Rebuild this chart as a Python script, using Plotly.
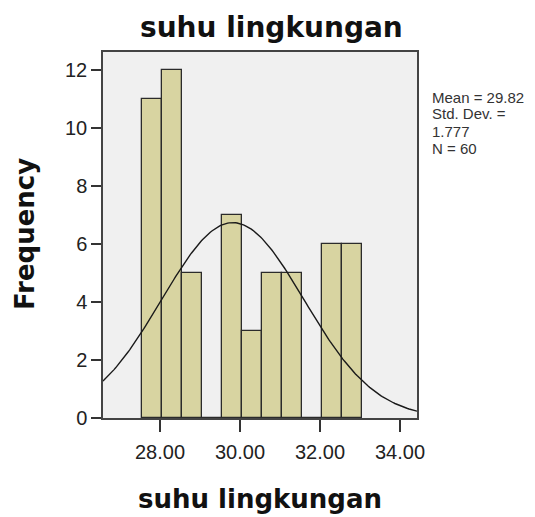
import numpy as np
import plotly.graph_objects as go

# histogram bins (bin start, count)
bin_start = [27.54, 28.04, 28.54, 29.04, 29.54, 30.04, 30.54, 31.04, 31.54, 32.04, 32.54]
counts = [11, 12, 5, 0, 7, 3, 5, 5, 0, 6, 6]
bin_width = 0.5

mean, sd, n = 29.82, 1.777, 60
stats_lines = ["Mean = 29.82", "Std. Dev. =", "1.777", "N = 60"]

x_ticks = [28, 30, 32, 34]
x_ticktext = ["28.00", "30.00", "32.00", "34.00"]
y_ticks = [0, 2, 4, 6, 8, 10, 12]

centers = [b + bin_width / 2 for b in bin_start]

# fitted normal curve scaled to the histogram
x_lo, x_hi = 26.575, 34.425
xs = np.linspace(x_lo, x_hi, 200)
ys = n * bin_width * np.exp(-0.5 * ((xs - mean) / sd) ** 2) / (sd * np.sqrt(2 * np.pi))

fig = go.Figure()
fig.add_trace(go.Bar(
    x=centers, y=counts, width=bin_width,
    marker=dict(color="#d8d4a1", line=dict(color="#2b2b2b", width=1.3)),
    hoverinfo="x+y",
))
fig.add_trace(go.Scatter(
    x=xs, y=ys, mode="lines",
    line=dict(color="#1a1a1a", width=1.4),
    hoverinfo="skip",
))

W, H = 535, 517
L, R, T, B = 103, 118, 52, 99
pw, ph = W - L - R, H - T - B


def pix(x, y):
    # page pixel -> paper coords
    return (x - L) / pw, 1 - (y - T) / ph


bold = "DejaVu Sans, Verdana, sans-serif"
plain = "Liberation Sans, Arial, sans-serif"

ann = []
tx, ty = pix(271, 27)
ann.append(dict(text="<b>suhu lingkungan</b>", x=tx, y=ty,
                font=dict(family=bold, size=28, color="#111")))
tx, ty = pix(260, 499)
ann.append(dict(text="<b>suhu lingkungan</b>", x=tx, y=ty,
                font=dict(family=bold, size=26, color="#111")))
tx, ty = pix(25, 234)
ann.append(dict(text="<b>Frequency</b>", x=tx, y=ty, textangle=-90,
                font=dict(family=bold, size=26, color="#111")))
for i, line in enumerate(stats_lines):
    tx, ty = pix(430, 97 + i * 17)
    ann.append(dict(text=line, x=tx, y=ty, xanchor="left",
                    font=dict(family=plain, size=15, color="#333")))
for a in ann:
    a.update(xref="paper", yref="paper", showarrow=False)
    a.setdefault("xanchor", "center")
    a["yanchor"] = "middle"

fig.update_layout(
    width=W, height=H,
    margin=dict(l=L, r=R, t=T, b=B),
    paper_bgcolor="white",
    plot_bgcolor="#f0f0f0",
    showlegend=False,
    bargap=0,
    font=dict(family=plain, color="#222"),
    annotations=ann,
)

fig.update_xaxes(
    range=[x_lo, x_hi],
    tickvals=x_ticks, ticktext=x_ticktext,
    ticks="outside", ticklen=12, tickwidth=2, tickcolor="#333",
    ticklabelstandoff=3,
    tickfont=dict(size=20, color="#222"),
    showgrid=False, zeroline=False,
    showline=True, linecolor="#444", linewidth=1.5, mirror=True,
)
fig.update_yaxes(
    range=[0, 12.62],
    tickvals=y_ticks,
    ticks="outside", ticklen=10, tickwidth=2, tickcolor="#333",
    tickfont=dict(size=20, color="#222"),
    showgrid=False, zeroline=False,
    showline=True, linecolor="#444", linewidth=1.5, mirror=True,
)

fig.write_html("out.html", config={"displayModeBar": False},
               post_script="document.body.style.margin='0';")
